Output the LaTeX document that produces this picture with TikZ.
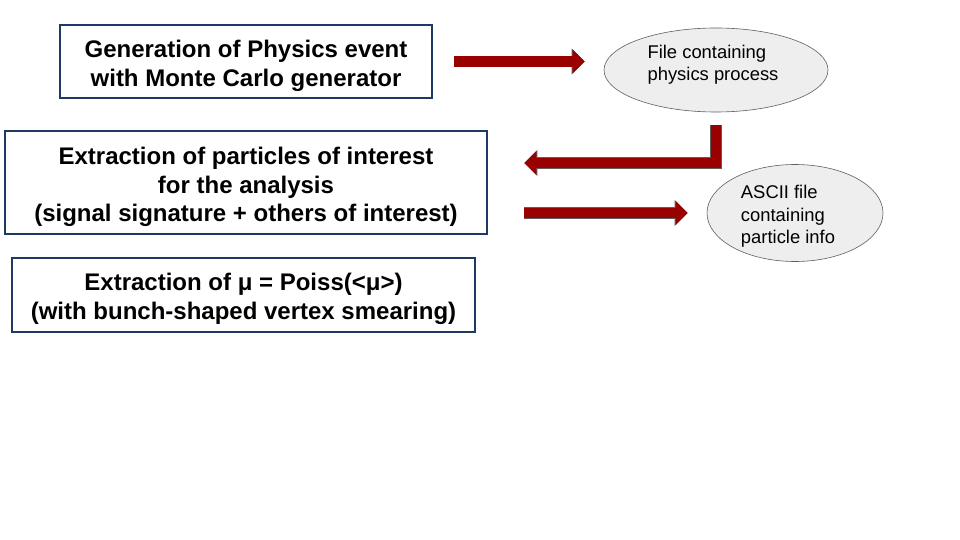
\documentclass[tikz,border=0pt]{standalone}
\usepackage{fontspec}
\setmainfont{Liberation Sans}
\usetikzlibrary{shapes.geometric,arrows.meta}
\definecolor{Navy}{HTML}{1C3A63}
\definecolor{DarkRed}{HTML}{990000}
\definecolor{Rim}{HTML}{5F5F5F}
\definecolor{Bubble}{HTML}{EEEEEE}
\begin{document}
\begin{tikzpicture}[x=1pt,y=-1pt,every node/.style={text=black},
  stagebox/.style={draw=Navy,line width=2.6pt,fill=white,inner sep=0pt},
  stagetext/.style={align=center,inner sep=0pt,font=\fontsize{24}{28.7}\selectfont\bfseries},
  bubble/.style={ellipse,draw=Rim,line width=0.6pt,fill=Bubble,inner sep=0pt},
  bubbletext/.style={align=left,inner sep=0pt,font=\fontsize{18.4}{22.5}\selectfont},
  bigarrow/.style={draw=DarkRed,line width=10.5pt,line join=miter,
    -{Triangle[length=12pt 0 0,width=24pt 0 0,line width=0pt]},
    preaction={draw=Rim,line width=11.8pt,-{Triangle[length=13pt 0 0,width=26pt 0 0,line width=0pt]}}}]
\fill[white] (0,0) rectangle (960,540);
\useasboundingbox (0,0) rectangle (960,540);
\node[stagebox,minimum width=372pt,minimum height=73pt] (gen) at (246,61.5) {};
\node[stagetext] (gentxt) at ([yshift=-4pt]gen.center)
  {Generation of Physics event\\with Monte Carlo generator};
\node[stagebox,minimum width=482pt,minimum height=103pt] (ext) at (246,182.5) {};
\node[stagetext] (exttxt) at ([yshift=-4.5pt]ext.center)
  {Extraction of particles of interest\\for the analysis\\(signal signature + others of interest)};
\node[stagebox,minimum width=463pt,minimum height=74pt] (poiss) at (243.5,295) {};
\node[stagetext] (poisstxt) at ([yshift=-4pt]poiss.center)
  {Extraction of μ = Poiss(<μ>)\\ (with bunch-shaped vertex smearing)};
\node[bubble,minimum width=224pt,minimum height=84pt] (file) at (716,70) {};
\node[bubbletext] (filetxt) at (713,64.5) {File containing\\physics process};
\node[bubble,minimum width=176pt,minimum height=97pt] (ascii) at (795,213) {};
\node[bubbletext] (asciitxt) at (788,216.5) {ASCII file\\containing\\particle info};
\draw[bigarrow,shorten <=21pt,shorten >=19pt] (gen.east) -- (gen.east -| file.west);
\draw[bigarrow,shorten <=13pt,shorten >=36pt] (file.south) |- ([yshift=19.5pt]ext.east);
\draw[bigarrow,shorten <=36pt,shorten >=19pt] (ext.east |- ascii.west) -- (ascii.west);
\end{tikzpicture}
\end{document}
